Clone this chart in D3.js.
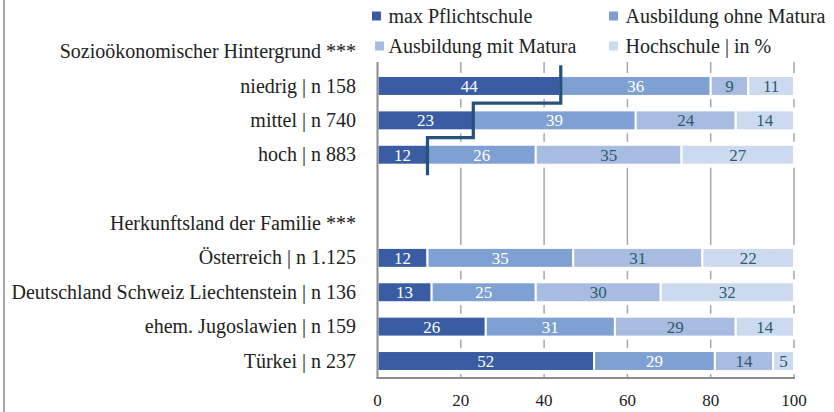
<!DOCTYPE html>
<html>
<head>
<meta charset="utf-8">
<script src="https://cdn.jsdelivr.net/npm/d3@7"></script>
<style>
  body { margin: 0; background: #fff; }
  svg { display: block; font-family: "Liberation Serif", "DejaVu Serif", serif; }
</style>
</head>
<body>
<svg id="chart" width="834" height="412"></svg>
<script>
// rows of the y axis (headers, spacer and bars)
var rowLabels = [
  "Sozioökonomischer Hintergrund ***",
  "niedrig | n 158",
  "mittel | n 740",
  "hoch | n 883",
  "",
  "Herkunftsland der Familie ***",
  "Österreich | n 1.125",
  "Deutschland Schweiz Liechtenstein | n 136",
  "ehem. Jugoslawien | n 159",
  "Türkei | n 237"
];
var barRows = [
  "niedrig | n 158",
  "mittel | n 740",
  "hoch | n 883",
  "Österreich | n 1.125",
  "Deutschland Schweiz Liechtenstein | n 136",
  "ehem. Jugoslawien | n 159",
  "Türkei | n 237"
];
var seriesNames = ["max Pflichtschule", "Ausbildung ohne Matura", "Ausbildung mit Matura", "Hochschule | in %"];
var maxPflichtschule = [44, 23, 12, 12, 13, 26, 52];
var ohneMatura      = [36, 39, 26, 35, 25, 31, 29];
var mitMatura       = [9, 24, 35, 31, 30, 29, 14];
var hochschule      = [11, 14, 27, 22, 32, 14, 5];
var stepRows = ["niedrig | n 158", "mittel | n 740", "hoch | n 883"];
var xTicks = [0, 20, 40, 60, 80, 100];

var colors = ["#3a5ca3", "#7fa0d2", "#a8bce2", "#ccdaef"];
var labelColors = ["#ffffff", "#ffffff", "#2f5a6c", "#2f5a6c"];

var svg = d3.select("#chart");

var x = d3.scaleLinear().domain([0, 100]).range([377.5, 794]);
var y = d3.scaleBand().domain(rowLabels).range([34.4, 378.2]).paddingInner(0.42).paddingOuter(0.21);
var plotTop = 62, plotBottom = 378;

var table = barRows.map(function(r, i) {
  return { row: r, values: [maxPflichtschule[i], ohneMatura[i], mitMatura[i], hochschule[i]] };
});
var stacked = d3.stack().keys([0, 1, 2, 3]).value(function(d, k) { return d.values[k]; })(table);

// frame line on the left
svg.append("line")
  .attr("x1", 4).attr("x2", 4).attr("y1", 0).attr("y2", 412)
  .attr("stroke", "#a6a6a6").attr("stroke-width", 2);

// gridlines
svg.append("g").selectAll("line")
  .data(xTicks.slice(1))
  .enter().append("line")
  .attr("x1", function(d) { return x(d); }).attr("x2", function(d) { return x(d); })
  .attr("y1", plotTop).attr("y2", plotBottom)
  .attr("stroke", "#a6a6a6").attr("stroke-width", 1.5);

// white backing behind each bar
svg.append("g").selectAll("rect")
  .data(barRows)
  .enter().append("rect")
  .attr("x", x(0)).attr("width", x(100) - x(0) + 2)
  .attr("y", function(d) { return y(d) - 3; })
  .attr("height", y.bandwidth() + 6)
  .attr("fill", "#fff");

// bars
var layers = svg.append("g").selectAll("g")
  .data(stacked)
  .enter().append("g");

layers.selectAll("rect")
  .data(function(s) { return s.map(function(d) { return { k: s.key, d: d }; }); })
  .enter().append("rect")
  .attr("x", function(o) { return x(o.d[0]); })
  .attr("width", function(o) { return x(o.d[1]) - x(o.d[0]); })
  .attr("y", function(o) { return y(o.d.data.row); })
  .attr("height", y.bandwidth())
  .attr("fill", function(o) { return colors[o.k]; })
  .attr("stroke", "#fff").attr("stroke-width", 2);

layers.selectAll("text")
  .data(function(s) { return s.map(function(d) { return { k: s.key, d: d }; }); })
  .enter().append("text")
  .attr("x", function(o) { return (x(o.d[0]) + x(o.d[1])) / 2; })
  .attr("y", function(o) { return y(o.d.data.row) + y.bandwidth() / 2; })
  .attr("dy", "0.35em")
  .attr("text-anchor", "middle")
  .attr("font-size", 17)
  .attr("fill", function(o) { return labelColors[o.k]; })
  .text(function(o) { return o.d.data.values[o.k]; });

// axis lines
svg.append("line")
  .attr("x1", x(0)).attr("x2", x(0)).attr("y1", plotTop).attr("y2", plotBottom)
  .attr("stroke", "#8c8c8c").attr("stroke-width", 2);
svg.append("line")
  .attr("x1", x(0) - 1).attr("x2", x(100) + 1).attr("y1", plotBottom).attr("y2", plotBottom)
  .attr("stroke", "#8c8c8c").attr("stroke-width", 2);

// x tick labels
svg.append("g").selectAll("text")
  .data(xTicks)
  .enter().append("text")
  .attr("x", function(d) { return x(d); })
  .attr("y", 406)
  .attr("text-anchor", "middle")
  .attr("font-size", 17)
  .attr("fill", "#222")
  .text(function(d) { return d; });

// row labels
svg.append("g").selectAll("text")
  .data(rowLabels.filter(function(d) { return d !== ""; }))
  .enter().append("text")
  .attr("x", 356)
  .attr("y", function(d) { return y(d) + y.bandwidth() / 2; })
  .attr("dy", "0.33em")
  .attr("text-anchor", "end")
  .attr("font-size", 20)
  .attr("fill", "#222")
  .text(function(d) { return d; });

// step line for max Pflichtschule in the first group
var step = y.step();
var pts = [];
stepRows.forEach(function(r, i) {
  var v = maxPflichtschule[barRows.indexOf(r)];
  var c = y(r) + y.bandwidth() / 2;
  pts.push([x(v), i === 0 ? c - 0.6 * step : c - step / 2]);
  pts.push([x(v), i === stepRows.length - 1 ? c + 0.6 * step : c + step / 2]);
});
svg.append("path")
  .attr("d", d3.line()(pts))
  .attr("fill", "none")
  .attr("stroke", "#26517b")
  .attr("stroke-width", 3.2);

// legend
var legendPos = [[372, 16], [609, 16], [375, 46], [609, 46]];
var legend = svg.append("g").selectAll("g")
  .data(seriesNames)
  .enter().append("g")
  .attr("transform", function(d, i) { return "translate(" + legendPos[i][0] + "," + legendPos[i][1] + ")"; });
legend.append("rect")
  .attr("x", 0).attr("y", -4.5).attr("width", 9).attr("height", 9)
  .attr("fill", function(d, i) { return colors[i]; });
legend.append("text")
  .attr("x", function(d, i) { return i === 2 ? 13.5 : 16.5; })
  .attr("dy", "0.33em")
  .attr("font-size", 20)
  .attr("fill", "#222")
  .text(function(d) { return d; });
</script>
</body>
</html>
